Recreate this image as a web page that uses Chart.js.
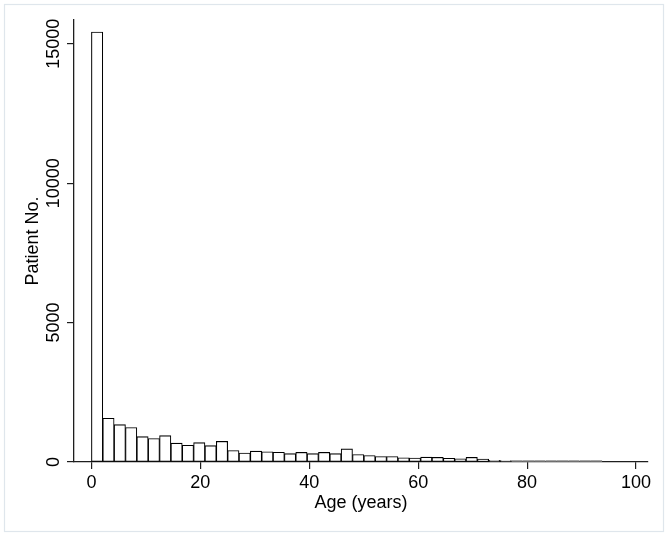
<!DOCTYPE html>
<html>
<head>
<meta charset="utf-8">
<script src="https://cdn.jsdelivr.net/npm/chart.js@4.4.0/dist/chart.umd.min.js"></script>
<style>
html,body{margin:0;padding:0;background:#fff;}
#wrap{width:668px;height:536px;position:relative;}
canvas{display:block;}
</style>
</head>
<body>
<div id="wrap"><canvas id="c" width="668" height="536"></canvas></div>
<script>
// ---- data ----
const binWidth = 2.0844;          // years per histogram bin (bins start at age 0)
const binCounts = [15420, 1570, 1340, 1235, 910, 840, 945, 676, 598, 695,
                   585, 740, 410, 320, 390, 365, 350, 300, 345, 300,
                   345, 300, 470, 270, 230, 195, 195, 150, 140, 175,
                   165, 135, 115, 165, 105, 60, 50, 30, 25, 15,
                   12, 8, 6, 4, 3];
const xTickValues = [0, 20, 40, 60, 80, 100];
const yTickValues = [0, 5000, 10000, 15000];
const xRange = [-3.2, 102.2];
const yRange = [0, 15854];
const xTitle = 'Age (years)';
const yTitle = 'Patient No.';

const FONT = "'Liberation Sans', Arial, sans-serif";
const AXIS_COLOR = '#1e1e1e';
const TICK_SIZE = 18;
const TITLE_SIZE = 18;

const barPoints = binCounts.map((v, i) => ({ x: (i + 0.5) * binWidth, y: v }));

const framePlugin = {
  id: 'frame',
  beforeDraw(chart) {
    const ctx = chart.ctx;
    ctx.save();
    ctx.fillStyle = '#ffffff';
    ctx.fillRect(0, 0, chart.width, chart.height);
    ctx.strokeStyle = '#dfe6ec';
    ctx.lineWidth = 1.2;
    ctx.strokeRect(4.5, 4.5, chart.width - 9, chart.height - 9);
    ctx.restore();
  }
};

// rotated (vertical) y tick labels, positioned through the y scale
const yLabelPlugin = {
  id: 'yLabels',
  afterDraw(chart) {
    const ys = chart.scales.y;
    const ctx = chart.ctx;
    ctx.save();
    ctx.fillStyle = '#000';
    ctx.font = TICK_SIZE + 'px ' + FONT;
    ctx.textAlign = 'center';
    ctx.textBaseline = 'middle';
    ys.ticks.forEach(t => {
      const py = ys.getPixelForValue(t.value);
      ctx.save();
      ctx.translate(chart.chartArea.left - 20, py);
      ctx.rotate(-Math.PI / 2);
      ctx.fillText(String(t.value), 0, 0);
      ctx.restore();
    });
    ctx.restore();
  }
};

new Chart(document.getElementById('c'), {
  type: 'bar',
  data: {
    datasets: [{
      data: barPoints,
      backgroundColor: '#ffffff',
      borderColor: '#000000',
      // very short tail bins: only their top outline shows, as in the reference
      borderWidth: c => (c.raw && c.raw.y < 40) ? { top: 1.1, left: 0, right: 0, bottom: 0 } : 1.1,
      borderSkipped: false,
      minBarLength: 1.5,
      barPercentage: 1,
      categoryPercentage: 1
    }]
  },
  options: {
    responsive: false,
    animation: false,
    devicePixelRatio: 1,
    layout: { padding: { left: 0, top: 20, right: 20, bottom: 0 } },
    plugins: { legend: { display: false }, tooltip: { enabled: false } },
    scales: {
      x: {
        type: 'linear',
        min: xRange[0],
        max: xRange[1],
        offset: false,
        z: 1,
        afterBuildTicks: s => { s.ticks = xTickValues.map(v => ({ value: v })); },
        afterFit: s => { s.height = 74; },
        grid: { display: true, offset: false, drawOnChartArea: false, drawTicks: true, tickLength: 7, color: AXIS_COLOR, lineWidth: 1.2 },
        border: { display: true, color: AXIS_COLOR, width: 1.3 },
        ticks: { color: '#000', font: { family: FONT, size: TICK_SIZE }, padding: 3, maxRotation: 0, autoSkip: false },
        title: { display: true, text: xTitle, color: '#000', font: { family: FONT, size: TITLE_SIZE }, padding: { top: 0, bottom: 22 } }
      },
      y: {
        type: 'linear',
        min: yRange[0],
        max: yRange[1],
        z: 1,
        afterBuildTicks: s => { s.ticks = yTickValues.map(v => ({ value: v })); },
        afterFit: s => { s.width = 74; },
        grid: { display: true, drawOnChartArea: false, drawTicks: true, tickLength: 7, color: AXIS_COLOR, lineWidth: 1.2 },
        border: { display: true, color: AXIS_COLOR, width: 1.3 },
        ticks: { color: 'rgba(0,0,0,0)', font: { family: FONT, size: TICK_SIZE }, autoSkip: false },
        title: { display: true, text: yTitle, color: '#000', font: { family: FONT, size: TITLE_SIZE }, padding: { top: 22, bottom: 0 } }
      }
    }
  },
  plugins: [framePlugin, yLabelPlugin]
});
</script>
</body>
</html>
